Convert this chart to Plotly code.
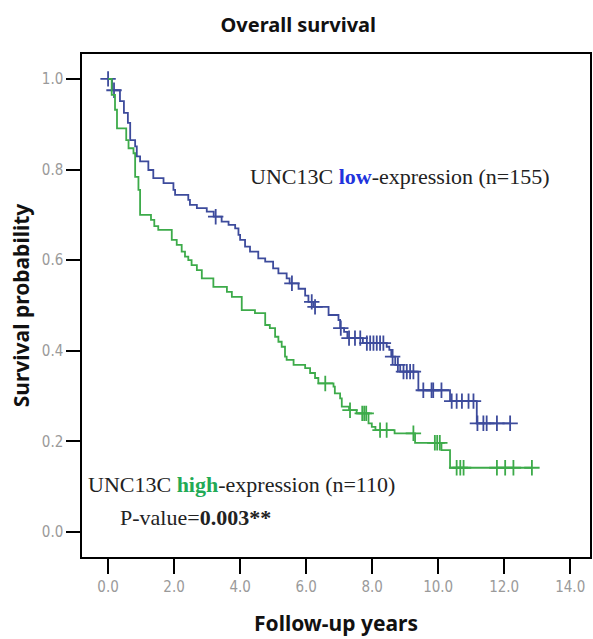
import numpy as np
import plotly.graph_objects as go

# ---- data (years, survival probability) ----
low_times = [0.12, 0.36, 0.48, 0.60, 0.67, 0.82, 0.87, 0.97, 1.22, 1.37, 1.68, 1.98, 2.03, 2.43, 2.48,
             2.69, 2.99, 3.20, 3.44, 3.65, 3.85, 3.95, 4.00, 4.15, 4.30, 4.55, 4.76, 5.00, 5.16, 5.41,
             5.50, 5.77, 5.97, 6.07, 6.22, 6.68, 6.98, 7.03, 7.15, 7.25, 7.72, 8.44, 8.52, 8.58, 8.70,
             8.85, 9.40, 10.36, 11.17]
low_surv = [0.975, 0.951, 0.925, 0.903, 0.865, 0.851, 0.829, 0.818, 0.799, 0.781, 0.770, 0.755, 0.744,
            0.733, 0.722, 0.715, 0.707, 0.696, 0.685, 0.678, 0.670, 0.656, 0.645, 0.630, 0.619, 0.604,
            0.597, 0.582, 0.571, 0.560, 0.549, 0.537, 0.522, 0.508, 0.497, 0.479, 0.468, 0.450, 0.442,
            0.428, 0.417, 0.409, 0.402, 0.387, 0.369, 0.354, 0.313, 0.289, 0.240]
low_censored = [0.0, 0.18, 3.26, 5.57, 6.17, 6.27, 7.05, 7.30, 7.48, 7.64, 7.84, 7.94, 8.04, 8.14, 8.24,
                8.34, 8.62, 8.78, 8.95, 9.05, 9.15, 9.25, 9.55, 9.80, 9.85, 10.10, 10.41, 10.56, 10.72,
                10.92, 11.07, 11.19, 11.37, 11.47, 11.78, 12.18]

high_times = [0.11, 0.21, 0.27, 0.55, 0.62, 0.77, 0.82, 0.92, 0.97, 1.30, 1.40, 1.52, 1.93, 2.08, 2.23,
              2.33, 2.43, 2.53, 2.69, 2.84, 3.19, 3.60, 3.75, 4.05, 4.45, 4.76, 4.90, 5.06, 5.16, 5.26,
              5.36, 5.41, 5.62, 5.97, 6.12, 6.27, 6.37, 6.83, 6.87, 7.03, 7.08, 7.30, 7.53, 7.89, 7.99,
              8.10, 8.68, 9.30, 10.10, 10.36]
high_surv = [0.965, 0.932, 0.891, 0.865, 0.847, 0.836, 0.784, 0.755, 0.700, 0.689, 0.675, 0.667, 0.645,
             0.634, 0.619, 0.608, 0.600, 0.589, 0.578, 0.560, 0.541, 0.530, 0.519, 0.490, 0.483, 0.457,
             0.450, 0.431, 0.420, 0.409, 0.387, 0.380, 0.369, 0.362, 0.351, 0.340, 0.328, 0.321, 0.306,
             0.295, 0.277, 0.269, 0.262, 0.240, 0.232, 0.225, 0.218, 0.197, 0.181, 0.142]
high_censored = [6.58, 7.33, 7.70, 7.76, 7.82, 8.24, 8.44, 9.25, 9.90, 9.97, 10.05, 10.56, 10.67, 10.77,
                 11.78, 12.03, 12.28, 12.84]

x_ticks = [0, 2, 4, 6, 8, 10, 12, 14]
x_ticklabels = ["0.0", "2.0", "4.0", "6.0", "8.0", "10.0", "12.0", "14.0"]
y_ticks = [0.0, 0.2, 0.4, 0.6, 0.8, 1.0]
y_ticklabels = ["0.0", "0.2", "0.4", "0.6", "0.8", "1.0"]

BLUE = "#3d4b9c"
GREEN = "#3dab4a"


def step_xy(times, surv, censored):
    end = max(max(times), max(censored))
    x = [0.0] + list(times) + [end]
    y = [1.0] + list(surv) + [surv[-1]]
    return x, y


def surv_at(times, surv, t):
    idx = np.searchsorted(np.array(times), np.array(t), side="right")
    s = np.concatenate([[1.0], surv])
    return s[idx]


fig = go.Figure()
for times, surv, cens, col in [(low_times, low_surv, low_censored, BLUE),
                               (high_times, high_surv, high_censored, GREEN)]:
    x, y = step_xy(times, surv, cens)
    fig.add_trace(go.Scatter(x=x, y=y, mode="lines", line=dict(color=col, width=1.8, shape="hv"),
                             showlegend=False, hoverinfo="skip"))
    fig.add_trace(go.Scatter(x=cens, y=surv_at(times, surv, cens), mode="markers",
                             marker=dict(symbol="cross-thin-open", size=11, color=col,
                                         line=dict(color=col, width=1.8)),
                             showlegend=False, hoverinfo="skip"))

serif = "Liberation Serif, Times New Roman, serif"
fig.add_annotation(x=4.24, y=0.784, xref="x", yref="y", xanchor="left", yanchor="middle",
                   text="UNC13C <b><span style='color:#2233dd'>low</span></b>-expression (n=155)",
                   showarrow=False, font=dict(family=serif, size=22, color="#222"))
fig.add_annotation(x=-0.67, y=0.106, xref="x", yref="y", xanchor="left", yanchor="middle",
                   text="UNC13C <b><span style='color:#22aa55'>high</span></b>-expression (n=110)",
                   showarrow=False, font=dict(family=serif, size=22, color="#222"))
fig.add_annotation(x=0.30, y=0.033, xref="x", yref="y", xanchor="left", yanchor="middle",
                   text="P-value=<b>0.003**</b>",
                   showarrow=False, font=dict(family=serif, size=22, color="#222"))

tickfont = dict(family="Liberation Sans Narrow, DejaVu Sans Condensed, sans-serif", size=15, color="#9a9a9a")
titlefont = dict(family="Noto Sans, Open Sans, sans-serif", size=20, color="#111")
axtitlefont = dict(family="Noto Sans, Open Sans, sans-serif", size=21, color="#111")

fig.update_layout(
    width=593, height=639,
    margin=dict(l=82, r=3, t=54, b=82),
    plot_bgcolor="white", paper_bgcolor="white",
    title=dict(text="<b>Overall survival</b>", x=0.503, xanchor="center", y=0.961, yanchor="middle",
               font=titlefont),
    xaxis=dict(range=[-0.79, 14.6], tickvals=x_ticks, ticktext=x_ticklabels, ticks="outside",
               ticklen=15, tickwidth=1.5, tickcolor="black", showline=True, linecolor="black",
               linewidth=1.5, mirror=True, showgrid=False, zeroline=False, tickfont=tickfont,
               automargin=False,
               title=dict(text="<b>Follow-up years</b>", font=axtitlefont, standoff=22)),
    yaxis=dict(range=[-0.055, 1.055], tickvals=y_ticks, ticktext=y_ticklabels, ticks="outside",
               ticklen=14, tickwidth=1.5, tickcolor="black", showline=True, linecolor="black",
               linewidth=1.5, mirror=True, showgrid=False, zeroline=False, tickfont=tickfont,
               automargin=False,
               title=dict(text="<b>Survival probability</b>", font=axtitlefont, standoff=6)),
)

fig.write_html("out.html", config={"displayModeBar": False},
               post_script="document.body.style.margin='0';")
